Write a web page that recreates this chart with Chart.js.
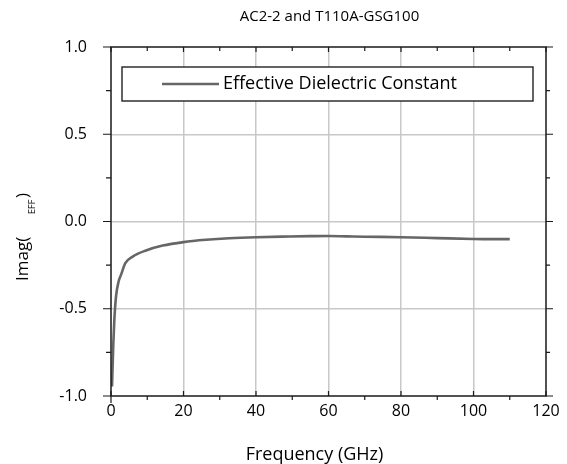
<!DOCTYPE html>
<html><head><meta charset="utf-8">
<script src="https://cdn.jsdelivr.net/npm/chart.js@4/dist/chart.umd.min.js"></script>
<style>html,body{margin:0;padding:0;background:#fff}#wrap{width:567px;height:464px;position:relative}</style>
</head><body><div id="wrap"><canvas id="c" width="567" height="464"></canvas></div>
<script>
const chartTitle = "AC2-2 and T110A-GSG100";
const xAxisTitle = "Frequency (GHz)";
const yAxisTitleMain = "Imag(";
const yAxisTitleSub = "EFF";
const yAxisTitleEnd = ")";
const seriesLabel = "Effective Dielectric Constant";

const frequencyGHz = [0.28, 0.64, 0.92, 1.38, 2.1, 2.76, 3.95, 5.98, 9.66, 14.25, 20, 26.2, 32.6, 40, 49.2, 55, 60, 65, 70, 80, 90, 100, 105, 110];
const imagEff      = [-0.946, -0.70, -0.564, -0.43, -0.344, -0.306, -0.239, -0.201, -0.166, -0.138, -0.118, -0.105, -0.096, -0.090, -0.086, -0.084, -0.083, -0.085, -0.087, -0.090, -0.095, -0.100, -0.101, -0.101];

const xMin = 0, xMax = 120, xMinorStep = 10, xMajorStep = 20;
const yMin = -1, yMax = 1, yMinorStep = 0.25, yMajorStep = 0.5;

const FONT = "'Open Sans', sans-serif";
const isMajor = (v, step) => Math.abs(v / step - Math.round(v / step)) < 1e-6;

const framePlugin = {
  id: 'frame',
  afterDatasetsDraw(chart) {
    const ctx = chart.ctx, a = chart.chartArea;
    const xs = chart.scales.x, ys = chart.scales.y;
    ctx.save();
    ctx.strokeStyle = '#1a1a1a';
    ctx.lineWidth = 1.5;
    ctx.beginPath();
    ctx.rect(a.left, a.top, a.right - a.left, a.bottom - a.top);
    ctx.stroke();
    ctx.lineWidth = 1.2;
    ctx.beginPath();
    for (let v = xMin; v <= xMax + 1e-9; v += xMinorStep) {
      const px = xs.getPixelForValue(v);
      const maj = isMajor(v, xMajorStep);
      if (maj) { ctx.moveTo(px, a.bottom + (v === xMin ? 7 : 0)); ctx.lineTo(px, a.bottom - 5); }
      else { ctx.moveTo(px, a.bottom); ctx.lineTo(px, a.bottom + 4); }
      ctx.moveTo(px, a.top); ctx.lineTo(px, a.top + (maj ? 5 : 4));
    }
    for (let v = yMin; v <= yMax + 1e-9; v += yMinorStep) {
      const py = ys.getPixelForValue(v);
      const maj = isMajor(v, yMajorStep);
      ctx.moveTo(a.left, py); ctx.lineTo(a.left - (maj ? 8 : 5), py);
      ctx.moveTo(a.right, py); ctx.lineTo(a.right + (maj ? 7 : 4), py);
    }
    ctx.stroke();

    // legend box
    const lx = a.left + 11, ly = a.top + 20, lw = a.right - 13 - lx, lh = 34;
    ctx.fillStyle = '#fff';
    ctx.fillRect(lx, ly, lw, lh);
    ctx.strokeStyle = '#222';
    ctx.lineWidth = 1.4;
    ctx.strokeRect(lx, ly, lw, lh);
    const ds = chart.data.datasets[0];
    const cy = ly + lh / 2;
    ctx.strokeStyle = ds.borderColor;
    ctx.lineWidth = ds.borderWidth;
    ctx.beginPath(); ctx.moveTo(lx + 40, cy); ctx.lineTo(lx + 97, cy); ctx.stroke();
    ctx.fillStyle = '#000';
    ctx.font = "18px " + FONT;
    ctx.textAlign = 'left'; ctx.textBaseline = 'middle';
    ctx.fillText(ds.label, lx + 101, cy);

    // titles
    ctx.textBaseline = 'alphabetic';
    ctx.textAlign = 'center';
    ctx.font = "15px " + FONT;
    ctx.fillText(chartTitle, (a.left + a.right) / 2 + 1, 21);
    ctx.font = "18px " + FONT;
    ctx.fillText(xAxisTitle, (a.left + a.right) / 2 - 14, 460);

    // y title (rotated)
    ctx.translate(28, 281);
    ctx.rotate(-Math.PI / 2);
    ctx.textAlign = 'left';
    ctx.font = "17px " + FONT;
    ctx.fillText(yAxisTitleMain, 0, 0);
    ctx.font = "9px " + FONT;
    ctx.fillText(yAxisTitleSub, 67, 7);
    ctx.font = "17px " + FONT;
    ctx.fillText(yAxisTitleEnd, 83, 0);
    ctx.restore();
  }
};

new Chart(document.getElementById('c'), {
  type: 'line',
  data: {
    datasets: [{
      label: seriesLabel,
      data: frequencyGHz.map((f, i) => ({ x: f, y: imagEff[i] })),
      borderColor: '#666666',
      borderWidth: 2.6,
      pointRadius: 0,
      cubicInterpolationMode: 'monotone',
      fill: false
    }]
  },
  options: {
    responsive: false,
    animation: false,
    devicePixelRatio: 1,
    layout: { padding: { top: 47, right: 21, left: 0, bottom: 0 } },
    plugins: { legend: { display: false }, title: { display: false }, tooltip: { enabled: false } },
    scales: {
      x: {
        type: 'linear', min: xMin, max: xMax,
        border: { display: false },
        afterFit: s => { s.height = 68; },
        ticks: {
          stepSize: xMinorStep, autoSkip: false, maxRotation: 0,
          callback: v => isMajor(v, xMajorStep) ? String(Math.round(v)) : '',
          font: { family: FONT, size: 16 }, color: '#000', padding: 6
        },
        grid: {
          drawTicks: false, lineWidth: 1.5,
          color: c => (c.tick && isMajor(c.tick.value, xMajorStep) && c.tick.value > xMin && c.tick.value < xMax) ? '#c8c8c8' : 'rgba(0,0,0,0)'
        }
      },
      y: {
        type: 'linear', min: yMin, max: yMax,
        border: { display: false },
        afterFit: s => { s.width = 111; },
        ticks: {
          stepSize: yMinorStep, autoSkip: false,
          callback: v => isMajor(v, yMajorStep) ? (Math.abs(v) < 1e-9 ? '0.0' : v.toFixed(1)) : '',
          font: { family: FONT, size: 16 }, color: '#000', padding: 24
        },
        grid: {
          drawTicks: false, lineWidth: 1.5,
          color: c => (c.tick && isMajor(c.tick.value, yMajorStep) && c.tick.value > yMin && c.tick.value < yMax) ? '#c8c8c8' : 'rgba(0,0,0,0)'
        }
      }
    }
  },
  plugins: [framePlugin]
});
</script>
</body></html>
